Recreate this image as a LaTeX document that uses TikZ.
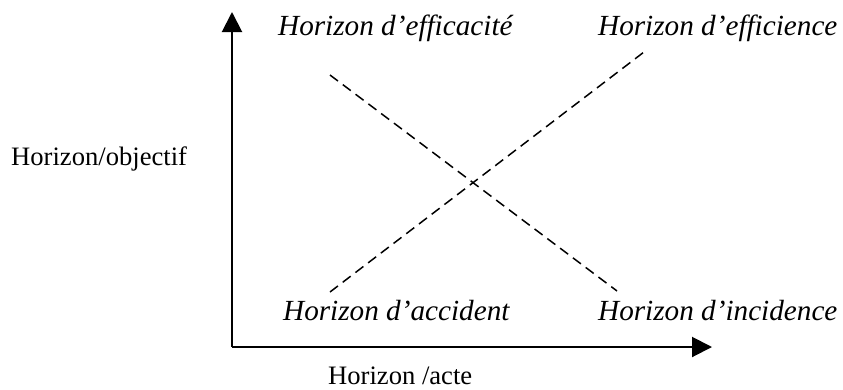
\documentclass[tikz,border=0pt]{standalone}
\usepackage{fontspec}
\setmainfont{Liberation Serif}
\usetikzlibrary{arrows.meta}

\begin{document}
\begin{tikzpicture}[x=1pt,y=-1pt,>={Triangle[length=20pt,width=20pt]},
  axe/.style={line width=2pt},
  droite/.style={line width=1.5pt,dash pattern=on 10pt off 6pt},
  etiq/.style={anchor=base west,inner sep=0pt,font=\fontsize{29.2}{34}\selectfont\itshape},
  titre/.style={anchor=base west,inner sep=0pt,font=\fontsize{26.6}{30}\selectfont}]
  \useasboundingbox (0,0) rectangle (843,389);
  % axes
  \coordinate (O) at (232,347);
  \coordinate (haut) at (232,12);
  \coordinate (droit) at (712,347);
  \draw[axe,->] (O) -- (haut);
  \draw[axe,->] (O) -- (droit);
  % titres des axes
  \node[titre] (objectif) at (11,165) {Horizon/objectif};
  \node[titre] (acte) at (328,384) {Horizon /acte};
  % horizons
  \node[etiq] (efficacite) at (278,35) {Horizon d'efficacité};
  \node[etiq] (efficience) at (598,35) {Horizon d'efficience};
  \node[etiq] (accident) at (283,320) {Horizon d'accident};
  \node[etiq] (incidence) at (598,320) {Horizon d'incidence};
  % droites
  \coordinate (a1) at (330,75);
  \coordinate (a2) at (617,291);
  \coordinate (b1) at (330,292);
  \coordinate (b2) at (644,52);
  \draw[droite] (a1) -- (a2);
  \draw[droite] (b1) -- (b2);
\end{tikzpicture}
\end{document}
